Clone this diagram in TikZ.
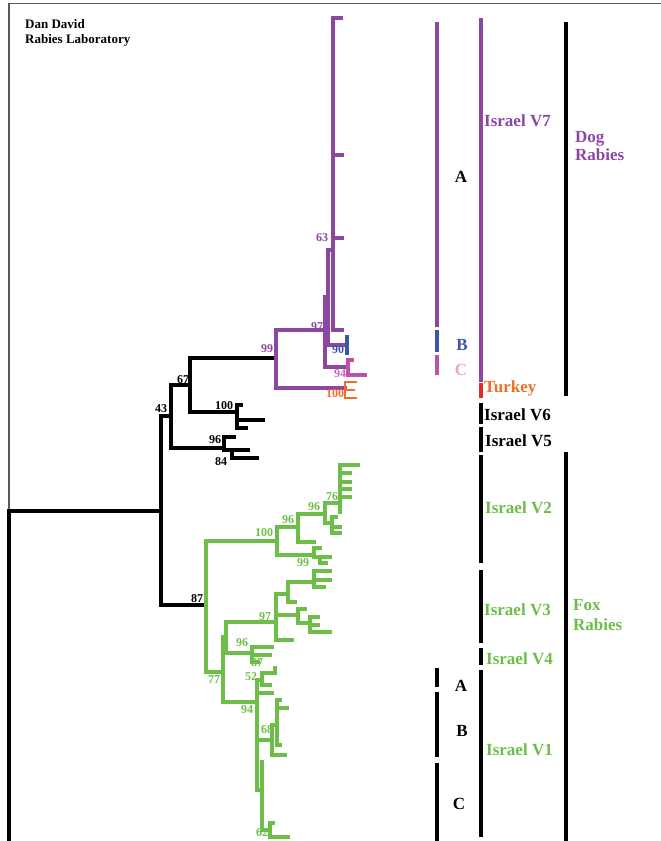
\documentclass[tikz,border=0pt]{standalone}
\usepackage{fontspec}
\setmainfont{Liberation Serif}
\usepackage{xcolor}
\usepackage{tikz}
\usetikzlibrary{positioning}

\definecolor{dogpurple}{RGB}{140,72,160}
\definecolor{dogblue}{RGB}{60,85,165}
\definecolor{dogpink}{RGB}{190,80,170}
\definecolor{lightpink}{RGB}{240,160,200}
\definecolor{midpink}{RGB}{200,100,190}
\definecolor{turkeyorange}{RGB}{240,110,40}
\definecolor{turkeyred}{RGB}{235,40,40}
\definecolor{foxgreen}{RGB}{108,190,72}

\begin{document}
\begin{tikzpicture}[
        x=1pt, y=-1pt,
        tree/.style={line width=3.4pt, line cap=rect},
        blk/.style={tree, black},
        dog/.style={tree, dogpurple},
        fox/.style={tree, foxgreen},
        bar/.style={line width=3.5pt},
        boot/.style={font=\bfseries\fontsize{12}{12}\selectfont, inner sep=0pt},
        sublabel/.style={font=\bfseries\fontsize{17}{17}\selectfont, inner sep=0pt, anchor=base},
        clade/.style={font=\bfseries\fontsize{17}{17}\selectfont, inner sep=0pt, anchor=base west}
    ]
        \useasboundingbox (0,0) rectangle (661,841);

        % Frame and title
        \draw[gray!70!black, line width=1.2pt] (9,511) -- (9,3.5) -- (661,3.5);
        \node[font=\bfseries\fontsize{13}{13}\selectfont, inner sep=0pt, anchor=base west] (lab1) at (25,28) {Dan David};
        \node[font=\bfseries\fontsize{13}{13}\selectfont, inner sep=0pt, anchor=base west] (lab2) at (25,43) {Rabies Laboratory};

        % Backbone
        \draw[blk] (9,841) -- (9,511) -- (161,511);
        \draw[blk] (161,605) -- (161,416) -- (171,416);
        \draw[blk] (171,448) -- (171,385) -- (190,385);
        \draw[blk] (190,412) -- (190,358) -- (276,358);

        % Israel V6
        \draw[blk] (190,412) -- (237,412);
        \draw[blk] (241,405) -- (237,405) -- (237,428) -- (246,428);
        \draw[blk] (237,420) -- (263,420);

        % Israel V5
        \draw[blk] (171,448) -- (224,448);
        \draw[blk] (234,437) -- (224,437) -- (224,450) -- (248,450);
        \draw[blk] (232,450) -- (232,458) -- (257,458);

        % Dog rabies
        \draw[dog] (276,330) -- (276,388) -- (345,388);
        \draw[dog] (276,330) -- (325,330);
        \draw[dog] (325,297) -- (325,367) -- (348,367);
        \draw[dog] (325,297) -- (328,297);
        \draw[dog] (328,250) -- (328,345) -- (347,345);
        \draw[dog] (328,250) -- (333,250);
        \draw[dog] (341,18) -- (333,18) -- (333,330) -- (342,330);
        \draw[dog] (333,155) -- (342,155);
        \draw[dog] (333,238) -- (342,238);
        \draw[tree, dogblue] (347,337) -- (347,353);
        \draw[tree, dogpink] (352,360) -- (348,360) -- (348,375) -- (365,375);
        \draw[tree, turkeyorange, line width=2pt] (356,382) -- (345,382) -- (345,398) -- (356,398);
        \draw[tree, turkeyorange, line width=2pt] (345,390) -- (354,390);

        % Fox rabies
        \draw[blk] (161,605) -- (206,605);
        \draw[fox] (206,541) -- (206,672) -- (223,672);
        \draw[fox] (206,541) -- (277,541);
        \draw[fox] (277,527) -- (277,555) -- (314,555);
        \draw[fox] (277,527) -- (298,527);
        \draw[fox] (298,514) -- (298,542) -- (314,542);
        \draw[fox] (298,514) -- (325,514);
        \draw[fox] (325,503) -- (325,523) -- (332,523);
        \draw[fox] (336,517) -- (332,517) -- (332,533) -- (340,533);
        \draw[fox] (332,527) -- (340,527);
        \draw[fox] (325,503) -- (340,503);
        \draw[fox] (358,465) -- (340,465) -- (340,512);
        \foreach \ty in {473,482,489,497}
            \draw[fox] (340,\ty) -- (350,\ty);
        \draw[fox] (320,548) -- (314,548) -- (314,557) -- (320,557);
        \draw[fox] (320,557) -- (330,557);
        \draw[fox] (320,557) -- (320,563) -- (326,563);

        % Israel V3
        \draw[fox] (223,637) -- (223,702) -- (257,702);
        \draw[fox] (223,637) -- (226,637);
        \draw[fox] (226,622) -- (226,653);
        \draw[fox] (226,622) -- (276,622);
        \draw[fox] (276,594) -- (276,640) -- (292,640);
        \draw[fox] (276,594) -- (288,594);
        \draw[fox] (288,582) -- (288,602) -- (295,602);
        \draw[fox] (288,582) -- (314,582);
        \draw[fox] (330,571) -- (314,571) -- (314,587) -- (324,587);
        \draw[fox] (314,580) -- (330,580);
        \draw[fox] (276,615) -- (298,615);
        \draw[fox] (305,609) -- (298,609) -- (298,623) -- (310,623);
        \draw[fox] (318,617) -- (310,617) -- (310,632) -- (330,632);
        \draw[fox] (310,625) -- (318,625);

        % Israel V4 and V1
        \draw[fox] (226,653) -- (252,653);
        \draw[fox] (272,647) -- (252,647) -- (252,662) -- (258,662);
        \draw[fox] (252,655) -- (270,655);
        \draw[fox] (257,680) -- (257,790) -- (262,790);
        \draw[fox] (257,680) -- (262,680);
        \draw[fox] (275,668) -- (275,673) -- (262,673) -- (262,685) -- (270,685);
        \draw[fox] (257,693) -- (272,693);
        \draw[fox] (257,740) -- (272,740);
        \draw[fox] (272,725) -- (272,755) -- (285,755);
        \draw[fox] (272,725) -- (277,725);
        \draw[fox] (280,700) -- (277,700) -- (277,745) -- (280,745);
        \draw[fox] (277,708) -- (287,708);
        \draw[fox] (262,762) -- (262,830) -- (270,830);
        \draw[fox] (273,823) -- (270,823) -- (270,837) -- (288,837);

        % Bootstrap values
        \node[boot] (b43) at (161,409) {43};
        \node[boot] (b67) at (183,380) {67};
        \node[boot] (b100k) at (224,406) {100};
        \node[boot] (b96k) at (215,440) {96};
        \node[boot] (b84) at (221,462) {84};
        \node[boot, dogpurple] (b99) at (267,349) {99};
        \node[boot, dogpurple] (b97) at (317,327) {97};
        \node[boot, dogpurple] (b63) at (322,238) {63};
        \node[boot, dogblue] (b90) at (338,350) {90};
        \node[boot, midpink] (b94p) at (340,374) {94};
        \node[boot, turkeyorange] (b100t) at (335,394) {100};
        \node[boot] (b87) at (197,599) {87};
        \node[boot, foxgreen] (b100g) at (264,533) {100};
        \node[boot, foxgreen] (b96a) at (288,520) {96};
        \node[boot, foxgreen] (b96b) at (314,507) {96};
        \node[boot, foxgreen] (b76) at (332,497) {76};
        \node[boot, foxgreen] (b99g) at (303,563) {99};
        \node[boot, foxgreen] (b97g) at (265,617) {97};
        \node[boot, foxgreen] (b96c) at (242,643) {96};
        \node[boot, foxgreen] (b87g) at (257,663) {87};
        \node[boot, foxgreen] (b52) at (251,677) {52};
        \node[boot, foxgreen] (b77) at (214,680) {77};
        \node[boot, foxgreen] (b94g) at (247,710) {94};
        \node[boot, foxgreen] (b68) at (267,730) {68};
        \node[boot, foxgreen] (b62) at (262,833) {62};

        % Sub-lineage bars
        \draw[bar, dogpurple] (437,22) -- (437,327);
        \draw[bar, dogblue] (437,330) -- (437,352);
        \draw[bar, dogpink] (437,355) -- (437,375);
        \draw[bar] (437,668) -- (437,687);
        \draw[bar] (437,692) -- (437,757);
        \draw[bar] (437,763) -- (437,841);
        \node[sublabel] (sa) at (461,182) {A};
        \node[sublabel, dogblue] (sb) at (462,350) {B};
        \node[sublabel, lightpink] (sc) at (461,375) {C};
        \node[sublabel] (fa) at (461,691) {A};
        \node[sublabel] (fb) at (462,736) {B};
        \node[sublabel] (fc) at (459,809) {C};

        % Variant bars
        \draw[bar, dogpurple] (481,18) -- (481,382);
        \draw[bar, turkeyred] (481,383) -- (481,398);
        \draw[bar] (481,403) -- (481,424);
        \draw[bar] (481,427) -- (481,452);
        \draw[bar] (481,455) -- (481,563);
        \draw[bar] (481,570) -- (481,643);
        \draw[bar] (481,648) -- (481,665);
        \draw[bar] (481,670) -- (481,837);
        \node[clade, dogpurple] (v7) at (484,126) {Israel V7};
        \node[clade, turkeyorange] (tr) at (484,392) {Turkey};
        \node[clade] (v6) at (484,420) {Israel V6};
        \node[clade] (v5) at (485,446) {Israel V5};
        \node[clade, foxgreen] (v2) at (485,513) {Israel V2};
        \node[clade, foxgreen] (v3) at (484,615) {Israel V3};
        \node[clade, foxgreen] (v4) at (486,664) {Israel V4};
        \node[clade, foxgreen] (v1) at (486,755) {Israel V1};

        % Host bars
        \draw[line width=4pt] (566,22) -- (566,396);
        \draw[line width=4pt] (566,452) -- (566,841);
        \node[clade, dogpurple] (dog1) at (575,142) {Dog};
        \node[clade, dogpurple] (dog2) at (575,160) {Rabies};
        \node[clade, foxgreen] (fox1) at (573,610) {Fox};
        \node[clade, foxgreen] (fox2) at (573,630) {Rabies};
    \end{tikzpicture}
\end{document}
